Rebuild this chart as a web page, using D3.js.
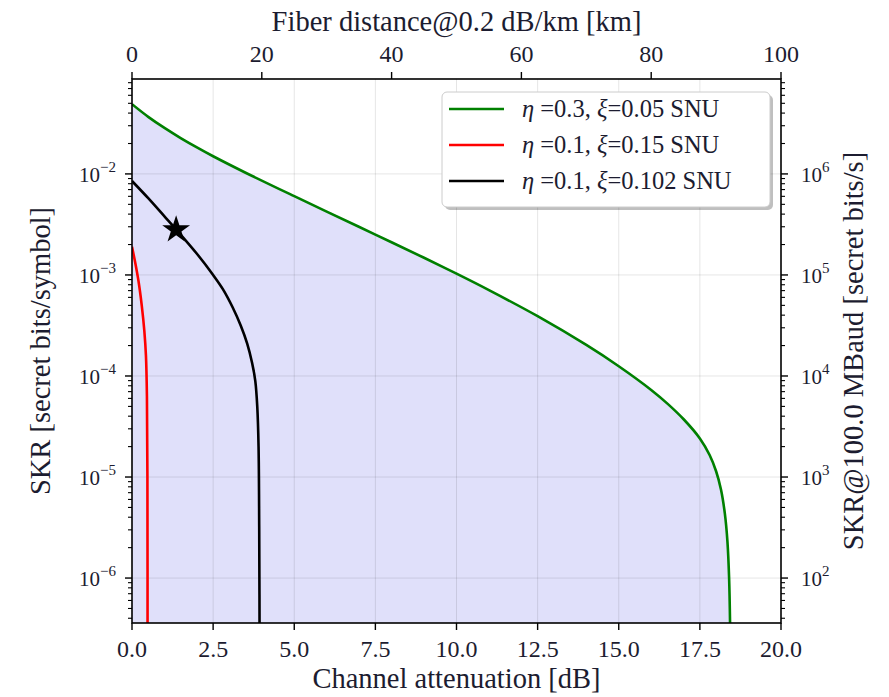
<!doctype html>
<html lang='en'>
<head>
<meta charset='UTF-8'>
<title>SKR vs attenuation</title>
<style>
  body,html{ margin:0; padding:0; background:#fff; }
  svg{ font-family:'Liberation Serif','DejaVu Serif',serif; }
  .tick-label{ font-size:24px; fill:#1c1c30; }
  .pow-label{ font-size:21px; fill:#1c1c30; }
  .axis-title{ font-size:28.5px; fill:#1c1c30; }
  .legend-text{ font-size:24.5px; fill:#1c1c30; }
  .grid line{ stroke:#000; stroke-opacity:0.1; stroke-width:1; }
</style>
</head>
<body>
<script src='https://cdnjs.cloudflare.com/ajax/libs/d3/7.8.5/d3.min.js'></script>
<script>
  // curves: attenuation [dB] -> SKR [bits/symbol]
  const greenDb  = [0, 0.5, 1, 1.5, 2, 2.5, 3.5, 5, 6, 7.5, 9, 10, 11, 12.5, 14, 15, 16, 16.5, 17, 17.5, 17.8, 18, 18.15, 18.27, 18.35, 18.4, 18.43, 18.45]
  const greenSkr = [0.04898, 0.03673, 0.02851, 0.02265, 0.0183, 0.01496, 0.01028, 0.006019, 0.00424, 0.002509, 0.001479, 0.00103, 0.000708, 0.000391, 0.000203, 0.000125, 0.0000728, 0.0000533, 0.0000373, 0.0000241, 0.0000165, 0.0000114, 0.00000753, 0.00000434, 0.00000228, 0.00000102, 0.00000036, 0.000000063]

  const redDb  = [0, 0.1, 0.2, 0.3, 0.38, 0.43, 0.46, 0.475, 0.48]
  const redSkr = [0.0019, 0.00132, 0.00087, 0.0005, 0.00028, 0.000158, 0.000063, 0.00001, 0.0000001]

  const blackDb  = [0, 0.5, 1, 1.36, 2, 2.5, 2.8, 3.1, 3.35, 3.55, 3.7, 3.8, 3.86, 3.9, 3.92, 3.935]
  const blackSkr = [0.00851, 0.00575, 0.0038, 0.00282, 0.00162, 0.001, 0.000724, 0.000479, 0.000316, 0.000209, 0.000135, 0.0000891, 0.0000501, 0.00002, 0.0000032, 0.0000001]

  const star = {db: 1.36, skr: 0.0028}

  const etaVals      = ['0.3', '0.1', '0.1']
  const xiVals       = ['0.05', '0.15', '0.102']
  const seriesColors = ['#008000', '#ff0000', '#000000']

  const xTicks     = [0, 2.5, 5, 7.5, 10, 12.5, 15, 17.5, 20]
  const kmTicks    = [0, 20, 40, 60, 80, 100]
  const leftExp    = [-6, -5, -4, -3, -2]
  const rightExp   = [2, 3, 4, 5, 6]
  const symbolRate = 1e8   // 100.0 MBaud
  const dbPerKm    = 0.2

  const w = 889, h = 697
  const margin = {top: 79, left: 132, right: 108, bottom: 74}
  const width = w - margin.left - margin.right
  const height = h - margin.top - margin.bottom

  const x = d3.scaleLinear().domain([0, 20]).range([0, width])
  const xKm = d3.scaleLinear().domain([0, 20 / dbPerKm]).range([0, width])
  const y = d3.scaleLog().domain([3.59e-7, 0.087]).range([height, 0])
  const yR = d3.scaleLog().domain([3.59e-7 * symbolRate, 0.087 * symbolRate]).range([height, 0])

  const svg = d3.select('body').append('svg')
    .attr('width', w)
    .attr('height', h)

  svg.append('defs').append('clipPath').attr('id', 'clip')
    .append('rect').attr('width', width).attr('height', height)

  const chart = svg.append('g')
    .attr('transform', `translate(${margin.left},${margin.top})`)

  const plot = chart.append('g').attr('clip-path', 'url(#clip)')

  const toPts = (xs, ys) => xs.map((d, i) => ({db: d, skr: ys[i]}))
  const green = toPts(greenDb, greenSkr)
  const red = toPts(redDb, redSkr)
  const black = toPts(blackDb, blackSkr)

  const curve = d3.curveCatmullRom.alpha(0.5)

  // shaded region under the best curve
  plot.append('path')
    .datum(green)
    .attr('fill', 'rgb(224,224,250)')
    .attr('d', d3.area().curve(curve)
      .x(d => x(d.db)).y0(height).y1(d => y(d.skr)))

  // grid
  const grid = plot.append('g').attr('class', 'grid')
  grid.selectAll('.gx').data(xTicks.slice(1, -1)).enter().append('line')
    .attr('x1', d => x(d)).attr('x2', d => x(d)).attr('y1', 0).attr('y2', height)
  grid.selectAll('.gy').data(leftExp).enter().append('line')
    .attr('x1', 0).attr('x2', width).attr('y1', d => y(Math.pow(10, d))).attr('y2', d => y(Math.pow(10, d)))

  const line = d3.line().curve(curve).x(d => x(d.db)).y(d => y(d.skr))
  ;[green, red, black].forEach((s, i) => {
    plot.append('path').datum(s)
      .attr('fill', 'none')
      .attr('stroke', seriesColors[i])
      .attr('stroke-width', 2.6)
      .attr('d', line)
  })

  plot.append('path')
    .attr('d', d3.symbol().type(d3.symbolStar).size(240)())
    .attr('transform', `translate(${x(star.db)},${y(star.skr)})`)
    .attr('fill', '#000')

  // frame
  chart.append('rect')
    .attr('width', width).attr('height', height)
    .attr('fill', 'none').attr('stroke', '#000').attr('stroke-width', 1.6)

  // log minor ticks
  function minorTicks(scale) {
    const [a, b] = scale.domain()
    const out = []
    for (let e = Math.floor(Math.log10(a)); e <= Math.ceil(Math.log10(b)); e++) {
      for (let m = 2; m <= 9; m++) {
        const v = m * Math.pow(10, e)
        if (v >= a && v <= b) out.push(v)
      }
    }
    return out
  }

  const tickG = chart.append('g').attr('stroke', '#000').attr('stroke-width', 1.4)
  // bottom / top
  tickG.selectAll('.tb').data(xTicks).enter().append('line')
    .attr('x1', d => x(d)).attr('x2', d => x(d)).attr('y1', height).attr('y2', height + 7)
  tickG.selectAll('.tt').data(kmTicks).enter().append('line')
    .attr('x1', d => xKm(d)).attr('x2', d => xKm(d)).attr('y1', 0).attr('y2', -7)
  // left
  tickG.selectAll('.tl').data(leftExp).enter().append('line')
    .attr('x1', 0).attr('x2', -7).attr('y1', d => y(Math.pow(10, d))).attr('y2', d => y(Math.pow(10, d)))
  tickG.selectAll('.tlm').data(minorTicks(y)).enter().append('line')
    .attr('stroke-width', 1.1)
    .attr('x1', 0).attr('x2', -4).attr('y1', d => y(d)).attr('y2', d => y(d))
  // right
  tickG.selectAll('.tr').data(rightExp).enter().append('line')
    .attr('x1', width).attr('x2', width + 7).attr('y1', d => yR(Math.pow(10, d))).attr('y2', d => yR(Math.pow(10, d)))
  tickG.selectAll('.trm').data(minorTicks(yR)).enter().append('line')
    .attr('stroke-width', 1.1)
    .attr('x1', width).attr('x2', width + 4).attr('y1', d => yR(d)).attr('y2', d => yR(d))

  // tick labels
  chart.selectAll('.xl').data(xTicks).enter().append('text')
    .attr('class', 'tick-label')
    .attr('x', d => x(d)).attr('y', height + 34)
    .attr('text-anchor', 'middle')
    .text(d => d.toFixed(1))

  chart.selectAll('.kl').data(kmTicks).enter().append('text')
    .attr('class', 'tick-label')
    .attr('x', d => xKm(d)).attr('y', -17)
    .attr('text-anchor', 'middle')
    .text(d => d)

  function powLabel(sel, sup) {
    sel.append('tspan').text('10')
    sel.append('tspan').attr('dy', -10).style('font-size', '15px').text(sup)
  }

  chart.selectAll('.yl').data(leftExp).enter().append('text')
    .attr('class', 'pow-label')
    .attr('x', -16).attr('y', d => y(Math.pow(10, d)) + 8)
    .attr('text-anchor', 'end')
    .each(function(d) { powLabel(d3.select(this), '\u2212' + (-d)) })

  chart.selectAll('.rl').data(rightExp).enter().append('text')
    .attr('class', 'pow-label')
    .attr('x', width + 20).attr('y', d => yR(Math.pow(10, d)) + 8)
    .each(function(d) { powLabel(d3.select(this), String(d)) })

  // axis titles
  chart.append('text').attr('class', 'axis-title')
    .attr('x', width / 2).attr('y', height + 65)
    .attr('text-anchor', 'middle')
    .text('Channel attenuation [dB]')

  chart.append('text').attr('class', 'axis-title')
    .attr('x', width / 2).attr('y', -48)
    .attr('text-anchor', 'middle')
    .text('Fiber distance@0.2 dB/km [km]')

  chart.append('text').attr('class', 'axis-title')
    .attr('text-anchor', 'middle')
    .attr('transform', `translate(-82,${height / 2}) rotate(-90)`)
    .text('SKR [secret bits/symbol]')

  chart.append('text').attr('class', 'axis-title')
    .attr('text-anchor', 'middle')
    .attr('transform', `translate(${width + 82},${height / 2}) rotate(-90)`)
    .text('SKR@100.0 MBaud [secret bits/s]')

  // legend
  const lg = chart.append('g').attr('transform', `translate(${310},${13})`)
  lg.append('rect')
    .attr('x', 3).attr('y', 3).attr('width', 328).attr('height', 115).attr('rx', 5)
    .attr('fill', '#000').attr('fill-opacity', 0.25)
  lg.append('rect')
    .attr('width', 328).attr('height', 115).attr('rx', 5)
    .attr('fill', '#fff').attr('stroke', '#ccc').attr('stroke-width', 1)
  const rows = lg.selectAll('.row').data(etaVals).enter().append('g')
    .attr('transform', (d, i) => `translate(0,${17 + i * 36})`)
  rows.append('line')
    .attr('x1', 7).attr('x2', 62).attr('y1', 0).attr('y2', 0)
    .attr('stroke', (d, i) => seriesColors[i]).attr('stroke-width', 2.6)
  const lt = rows.append('text').attr('class', 'legend-text')
    .attr('x', 80).attr('y', 8)
  lt.append('tspan').style('font-style', 'italic').text('\u03B7')
  lt.append('tspan').text(d => ' =' + d + ', ')
  lt.append('tspan').style('font-style', 'italic').text('\u03BE')
  lt.append('tspan').text((d, i) => '=' + xiVals[i] + ' SNU')
</script>
</body>
</html>
